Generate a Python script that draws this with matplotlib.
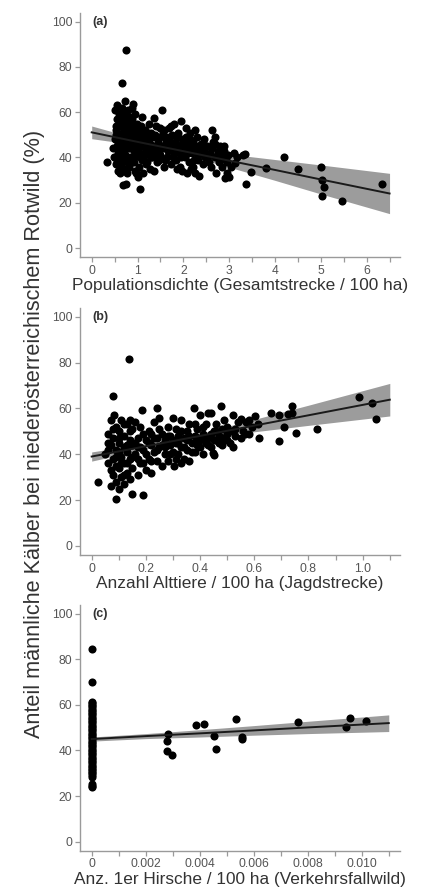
import matplotlib
matplotlib.use("Agg")
import matplotlib.pyplot as plt
from matplotlib.ticker import MultipleLocator, FixedLocator

plt.rcParams['font.family'] = ['Liberation Sans', 'DejaVu Sans']

# ---- panel (a): Populationsdichte ----
a_x = [0.47, 0.5, 0.52, 0.55, 0.5, 0.55, 0.48, 0.53, 0.57, 0.58, 0.6, 0.6, 0.58, 0.55, 0.6,
       0.62, 0.65, 0.63, 0.66, 0.64, 0.67, 0.65, 0.68, 0.66, 0.72, 0.7, 0.74, 0.72, 0.75, 0.71,
       0.73, 0.76, 0.7, 0.78, 0.79, 0.8, 0.78, 0.8, 0.77, 0.69, 0.74, 0.67, 0.75,
       0.82, 0.84, 0.85, 0.86, 0.88, 0.9, 0.92, 0.93, 0.95, 0.96, 0.91, 0.98, 0.97, 0.99, 0.87, 0.83, 0.95,
       1.02, 1.05, 1.03, 1.05, 1.07, 1.04, 1.08, 1.1, 1.12, 1.15, 1.18, 1.2, 1.22, 1.25, 1.27, 1.3, 1.28,
       1.13, 1.23, 1.17,
       1.33, 1.36, 1.38, 1.4, 1.42, 1.45, 1.48, 1.5, 1.53, 1.55, 1.58, 1.6, 1.35, 1.47, 1.57,
       1.63, 1.65, 1.68, 1.7, 1.72, 1.75, 1.78, 1.8, 1.83, 1.85, 1.88, 1.9, 1.93, 1.94, 1.97, 2.0, 1.98,
       1.74, 1.86,
       2.03, 2.05, 2.08, 2.1, 2.12, 2.15, 2.18, 2.2, 2.22, 2.25, 2.28, 2.3, 2.33, 2.35, 2.38, 2.4, 2.43,
       2.45, 2.48, 2.06, 2.26, 2.16,
       2.52, 2.55, 2.58, 2.6, 2.62, 2.65, 2.68, 2.7, 2.72, 2.75, 2.78, 2.8, 2.82, 2.85, 2.88, 2.9, 2.92,
       2.95, 2.98, 3.0,
       3.05, 3.1, 3.13, 3.18, 3.3, 3.35, 3.37, 3.47,
       3.8, 4.2, 4.5, 5.0, 5.02, 5.07, 5.03, 5.46, 6.34, 0.33,
       0.52, 0.54, 0.56, 0.58, 0.61, 0.63, 0.65, 0.67, 0.69, 0.71, 0.73, 0.75, 0.77, 0.79, 0.81, 0.83,
       0.85, 0.87, 0.89, 0.91, 0.93, 0.95, 0.97, 0.99, 1.01, 1.03, 1.06, 1.09, 1.11, 1.14, 1.16, 1.19,
       1.21, 1.24, 1.26, 1.29, 1.31, 1.34, 1.37, 1.39, 1.41, 1.44, 1.46, 1.49, 1.52, 1.56, 1.59, 1.62,
       1.66, 1.69, 1.73, 1.77, 1.81, 1.84, 1.87, 1.91, 1.95, 1.99, 2.02, 2.07, 2.11, 2.14, 2.19, 2.23,
       2.27, 2.31, 2.36, 2.41, 2.46, 2.5, 2.56, 2.63, 2.69, 2.76, 2.83, 2.89, 2.96]
a_y = [44, 48, 52, 57, 61, 63, 40, 37, 34, 46, 50, 55, 42, 39, 59,
       33, 36, 40, 43, 47, 51, 54, 58, 62, 65, 60, 56, 52, 48, 45,
       41, 38, 35, 33, 44, 50, 54, 61, 58, 28, 28.5, 73, 87.5,
       36, 40, 46, 52, 57, 49, 43, 38, 34, 33, 63.5, 55, 47, 41, 62, 58, 59,
       31.5, 26, 36, 40, 45, 50, 54, 58, 48, 42, 37, 44, 51, 55, 46, 40, 35,
       33, 49, 52,
       45, 57.5, 50, 43, 38, 47, 53, 41, 61, 44, 36, 49, 34, 39, 52,
       45, 40, 53, 47, 37, 50, 43, 55, 39, 46, 51, 42, 36, 56, 48, 44, 34,
       54, 35,
       40, 49, 33, 45, 38, 51, 42, 36, 47, 33, 44, 49, 39, 32, 46, 42, 37,
       48, 40, 53, 52, 35,
       45, 38, 42, 36, 52, 47, 49, 40, 33, 43, 38, 45, 41, 36, 43, 31, 39,
       33, 41, 31.5,
       36, 42, 37.7, 40.3, 41, 41.5, 28.3, 33.7,
       35.5, 40.2, 34.8, 35.8, 30, 27, 23, 20.8, 28.3, 37.8,
       50, 54, 45, 41, 58, 44, 49, 38, 56, 42, 53, 46, 40, 57, 48, 44,
       55, 38, 51, 46, 40, 53, 45, 50, 43, 48, 52, 39, 45, 50, 41, 47,
       38, 48, 43, 51, 40, 49, 44, 41, 54, 46, 42, 49, 45, 51, 39, 47,
       43, 49, 45, 40, 47, 43, 49, 45, 40, 46, 43, 47, 42, 48, 44, 39,
       45, 41, 44, 46, 43, 45, 41, 44, 46, 42, 40, 45, 38]
a_fit_x = [0, 1, 2, 3, 4, 5, 6.5]
a_fit = [51.1, 46.9, 42.8, 38.6, 34.5, 30.3, 24.1]
a_lo = [48.3, 45.5, 41.4, 35.7, 29.9, 23.9, 15.2]
a_hi = [53.9, 48.3, 44.2, 41.5, 39.1, 36.7, 33.0]

# ---- panel (b): Alttiere ----
b_x = [0.022, 0.089, 0.148, 0.19, 0.138, 0.08, 0.084, 0.985, 1.035, 1.049, 0.832, 0.753, 0.711,
       0.691, 0.691, 0.66, 0.739, 0.739, 0.725, 0.616, 0.604, 0.566, 0.615, 0.59, 0.58, 0.55, 0.54,
       0.05, 0.06, 0.06, 0.07, 0.07, 0.07, 0.08, 0.08, 0.08, 0.09, 0.09, 0.09, 0.1, 0.1, 0.1, 0.1,
       0.11, 0.11, 0.11, 0.12, 0.12, 0.12, 0.12, 0.13, 0.13, 0.13, 0.14, 0.14, 0.14, 0.15, 0.15, 0.15,
       0.1, 0.13, 0.06, 0.09, 0.12, 0.14,
       0.16, 0.17, 0.17, 0.18, 0.18, 0.19, 0.187, 0.2, 0.2, 0.21, 0.21, 0.22, 0.22, 0.23, 0.23, 0.24,
       0.24, 0.24, 0.25, 0.25, 0.26, 0.26, 0.27, 0.27, 0.28, 0.28, 0.29, 0.29, 0.3, 0.3, 0.19, 0.16,
       0.22, 0.17,
       0.304, 0.31, 0.31, 0.32, 0.32, 0.33, 0.33, 0.34, 0.34, 0.35, 0.35, 0.36, 0.36, 0.37, 0.377,
       0.38, 0.38, 0.39, 0.39, 0.4, 0.4, 0.41, 0.41, 0.42, 0.42, 0.43, 0.43, 0.44, 0.44, 0.45, 0.449,
       0.45, 0.33,
       0.46, 0.46, 0.47, 0.477, 0.48, 0.48, 0.49, 0.49, 0.5, 0.5, 0.51, 0.51, 0.52, 0.52, 0.53, 0.53,
       0.55, 0.56, 0.57, 0.58,
       0.06, 0.07, 0.08, 0.09, 0.1, 0.11, 0.12, 0.13, 0.14, 0.15, 0.16, 0.17, 0.18, 0.19, 0.2,
       0.21, 0.22, 0.23, 0.24, 0.25, 0.26, 0.27, 0.28, 0.29, 0.3, 0.31, 0.32, 0.33, 0.34, 0.35,
       0.36, 0.37, 0.38, 0.39, 0.4, 0.41, 0.42, 0.43, 0.44, 0.45, 0.46, 0.47, 0.48, 0.5, 0.52]
b_y = [27.8, 20.4, 22.6, 22.3, 81.6, 65.2, 57, 64.8, 62.3, 55.3, 51, 49.2, 52.1,
       45.8, 57.2, 58, 61.2, 58, 57.5, 47, 56.8, 48.9, 53, 52, 55, 55.5, 54,
       40, 36, 49, 26, 44, 55, 31, 38, 47, 28, 42, 52, 25, 34, 45, 50,
       30, 39, 55, 27, 36, 43, 48, 32, 41, 53, 29, 38, 46, 34, 44, 51,
       41, 36, 42, 35, 31, 55,
       40, 31, 47, 36, 52, 42, 59.4, 33, 46, 38, 50, 44, 32, 41, 54, 37,
       60, 47, 43, 56, 35, 49, 40, 46, 52, 37, 44, 48, 41, 56, 36, 54,
       49, 43,
       35, 45, 51, 40, 48, 43, 55, 38, 47, 50, 42, 37, 53, 45, 60,
       48, 41, 44, 51, 46, 57, 40, 49, 53, 45, 47, 58, 58, 43, 50, 40.4,
       39.5, 36,
       46, 53, 48, 61, 44, 51, 55, 47, 49, 52, 45, 50, 57, 43, 48, 51,
       47, 50, 54, 49,
       45, 33, 51, 39, 47, 36, 53, 44, 50, 39, 45, 38, 43, 49, 40,
       45, 37, 47, 42, 51, 44, 43, 48, 40, 46, 38, 45, 50, 43, 46,
       48, 41, 53, 47, 43, 52, 47, 44, 49, 46, 50, 45, 47, 46, 50]
b_fit_x = [0, 0.2, 0.4, 0.6, 0.8, 1.1]
b_fit = [39.0, 43.5, 48.0, 52.5, 57.0, 63.8]
b_lo = [37.0, 42.3, 46.9, 49.8, 52.6, 56.7]
b_hi = [41.0, 44.7, 49.1, 55.2, 61.4, 70.9]

# ---- panel (c): Verkehrsfallwild ----
c_x = [0] * 53 + [0.00278, 0.00278, 0.00284, 0.00297, 0.00385, 0.00416, 0.00453, 0.00462, 0.00533,
                  0.00558, 0.00558, 0.00765, 0.00941, 0.00958, 0.01016]
c_y = [24.0, 24.6, 25.2, 28.5, 29.2, 29.9, 30.6, 31.3, 32.0, 32.7, 33.4, 34.1, 34.8, 35.5, 36.2,
       36.9, 37.6, 38.3, 39.0, 39.7, 40.4, 41.1, 41.8, 42.5, 43.2, 43.9, 44.6, 45.3, 46.0, 46.7,
       47.4, 48.1, 48.8, 49.5, 50.2, 50.9, 51.6, 52.3, 53.0, 53.7, 54.4, 55.1, 55.8, 56.5, 57.2,
       57.9, 58.6, 59.3, 60.0, 60.7, 61.4, 70.0, 84.5,
       44.2, 39.8, 47.3, 37.9, 51.2, 51.5, 46.4, 40.6, 53.7, 46.1, 45.0, 52.4, 50.2, 54.2, 53.1]
c_fit_x = [0, 0.002, 0.004, 0.006, 0.008, 0.011]
c_fit = [45.0, 46.3, 47.5, 48.8, 50.1, 52.0]
c_lo = [44.1, 45.2, 45.9, 46.7, 47.4, 48.3]
c_hi = [45.9, 47.4, 49.1, 50.9, 52.8, 55.6]

panels = [
    dict(x=a_x, y=a_y, fx=a_fit_x, f=a_fit, lo=a_lo, hi=a_hi, tag='(a)',
         xlim=(-0.255, 6.73), major=[0, 1, 2, 3, 4, 5, 6], labels=['0', '1', '2', '3', '4', '5', '6'],
         minor=0.5, xlabel='Populationsdichte (Gesamtstrecke / 100 ha)',
         rect=[0.1874, 0.7122, 0.7496, 0.2732]),
    dict(x=b_x, y=b_y, fx=b_fit_x, f=b_fit, lo=b_lo, hi=b_hi, tag='(b)',
         xlim=(-0.043, 1.138), major=[0, 0.2, 0.4, 0.6, 0.8, 1.0],
         labels=['0', '0.2', '0.4', '0.6', '0.8', '1.0'],
         minor=0.1, xlabel='Anzahl Alttiere / 100 ha (Jagdstrecke)',
         rect=[0.1874, 0.3785, 0.7496, 0.2766]),
    dict(x=c_x, y=c_y, fx=c_fit_x, f=c_fit, lo=c_lo, hi=c_hi, tag='(c)',
         xlim=(-0.000433, 0.01142), major=[0, 0.002, 0.004, 0.006, 0.008, 0.010],
         labels=['0', '0.002', '0.004', '0.006', '0.008', '0.010'],
         minor=0.001, xlabel='Anz. 1er Hirsche / 100 ha (Verkehrsfallwild)',
         rect=[0.1874, 0.0474, 0.7496, 0.2751]),
]

fig = plt.figure(figsize=(4.27, 8.93), dpi=100)
axis_grey = '#9a9a9a'

for p in panels:
    ax = fig.add_axes(p['rect'])
    ax.fill_between(p['fx'], p['lo'], p['hi'], color='#9c9c9c', lw=0, zorder=1)
    ax.scatter(p['x'], p['y'], s=34, color='black', lw=0, zorder=2)
    ax.plot(p['fx'], p['f'], color='#1a1a1a', lw=1.4, zorder=3)
    ax.set_xlim(p['xlim'])
    ax.set_ylim(-3.95, 103.8)
    ax.xaxis.set_major_locator(FixedLocator(p['major']))
    ax.set_xticklabels(p['labels'])
    ax.xaxis.set_minor_locator(MultipleLocator(p['minor']))
    ax.set_yticks([0, 20, 40, 60, 80, 100])
    for s in ['top', 'right']:
        ax.spines[s].set_visible(False)
    for s in ['left', 'bottom']:
        ax.spines[s].set_color(axis_grey)
        ax.spines[s].set_linewidth(1.0)
    ax.tick_params(which='both', length=3.5, width=0.9, color=axis_grey,
                   labelsize=8.7, labelcolor='#555555', pad=2)
    ax.set_xlabel(p['xlabel'], fontsize=12.4, color='#333333', labelpad=1)
    ax.text(0.04, 0.965, p['tag'], transform=ax.transAxes, fontsize=9,
            fontweight='bold', color='#333333', va='center', ha='left')

fig.text(0.08, 0.514, 'Anteil männliche Kälber bei niederösterreichischem Rotwild (%)',
         rotation=90, fontsize=15.6, color='#333333', ha='center', va='center')

fig.savefig('out.png', dpi=100)
